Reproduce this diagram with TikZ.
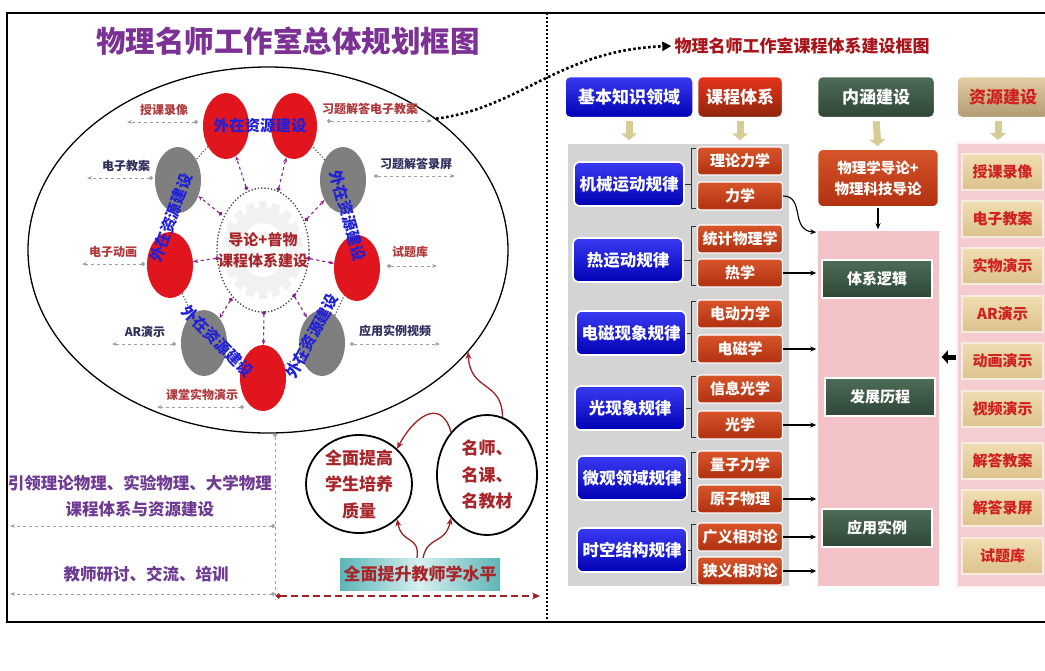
\documentclass[tikz,border=0pt]{standalone}
\usepackage{fontspec}
\setmainfont{Noto Sans CJK SC}
\usetikzlibrary{arrows.meta,shapes.geometric,calc}
\definecolor{cTitle}{HTML}{7B3294}
\definecolor{cPurT}{HTML}{6E3A92}
\definecolor{cRed}{HTML}{E0151E}
\definecolor{cGray}{HTML}{7F7F7F}
\definecolor{cBlue}{HTML}{2020D8}
\definecolor{cPur}{HTML}{8B2290}
\definecolor{cLab}{HTML}{B03A3C}
\definecolor{cNavy}{HTML}{30305E}
\definecolor{cDR}{HTML}{A8252A}
\definecolor{cCurve}{HTML}{A02025}
\definecolor{cT2}{HTML}{A8141A}
\definecolor{cKT}{HTML}{3A3AF2}
\definecolor{cKB}{HTML}{0000B4}
\definecolor{cOT}{HTML}{D8552A}
\definecolor{cOB}{HTML}{B03010}
\definecolor{cGT}{HTML}{4E6C58}
\definecolor{cGB}{HTML}{2E4636}
\definecolor{cPink}{HTML}{F3C3C8}
\definecolor{cTanT}{HTML}{F0DDB2}
\definecolor{cTanB}{HTML}{DCC28E}
\definecolor{cResT}{HTML}{D02020}
\definecolor{cTeal}{HTML}{5DB5B7}
\definecolor{cTealL}{HTML}{D6F0F0}
\definecolor{cDn}{HTML}{D6CC96}
\newcommand{\myfs}[2]{\fontsize{#1}{#2}\selectfont}
\begin{document}
\begin{tikzpicture}[x=1pt,y=-1pt,
  redc/.style={ellipse, fill=cRed, minimum width=46pt, minimum height=66pt, inner sep=0pt},
  grayc/.style={ellipse, fill=cGray, minimum width=46pt, minimum height=66pt, inner sep=0pt},
  ring/.style={dotted, line width=1.1pt, black!75},
  spoke/.style={dashed, line width=1.1pt, cPur, {Circle[length=4pt]}-{Stealth[length=5pt]}},
  btxt/.style={text=cBlue, font=\myfs{15.5}{16}\bfseries, inner sep=0pt},
  lbr/.style={text=cLab, font=\myfs{12}{12}\bfseries, inner sep=1pt},
  lbn/.style={text=cNavy, font=\myfs{12}{12}\bfseries, inner sep=1pt},
  garr/.style={dashed, gray!75, line width=1pt, {Circle[length=4pt]}-{Stealth[length=5pt]}},
  gline/.style={dashed, gray!75, line width=1pt, {Circle[length=4pt]}-},
  ptxt/.style={text=cPurT, font=\myfs{16.5}{26}\bfseries, inner sep=0pt},
  qcirc/.style={ellipse, draw=black, line width=1.8pt, fill=white, align=center, text=cDR, font=\myfs{17}{26.5}\bfseries, inner sep=0pt},
  rcurve/.style={cCurve, line width=1.3pt, -{Stealth[length=7pt,width=6pt]}},
  hbox/.style={rounded corners=5pt, minimum height=41pt, inner sep=0pt, draw=white, line width=1.5pt, font=\myfs{17}{18}\bfseries},
  dnarr/.style={line width=7pt, color=cDn, -{Triangle[length=7pt,width=16pt]}, shorten <=3pt, shorten >=2pt},
  kbox/.style={rounded corners=6pt, top color=cKT, bottom color=cKB, draw=white, line width=1.6pt, minimum width=110pt, minimum height=44pt, inner sep=0pt, text=white, font=\myfs{16.5}{17}\bfseries},
  cbox/.style={rounded corners=3pt, top color=cOT, bottom color=cOB, draw=white, line width=1.2pt, minimum width=85pt, minimum height=28pt, inner sep=0pt, text=white, font=\myfs{15}{16}\bfseries},
  gbox/.style={top color=cGT, bottom color=cGB, draw=white, line width=1.8pt, minimum width=110pt, minimum height=38pt, inner sep=0pt, text=white, font=\myfs{15}{16}\bfseries},
  rbox/.style={top color=cTanT, bottom color=cTanB, draw=white!70!cTanB, line width=1.5pt, minimum width=81pt, minimum height=36pt, inner sep=0pt, text=cResT, font=\myfs{15}{16}\bfseries},
  brk/.style={line width=1pt, black!80},
  barr/.style={line width=1.1pt, black, -{Stealth[length=6pt,width=5pt]}},
  bigdot/.style={line width=2.6pt, dash pattern=on 2.6pt off 2.4pt, -{Triangle[length=9pt,width=9pt]}}
]
\useasboundingbox (0,0) rectangle (1045,670);
\fill[white] (0,0) rectangle (1045,670);

% ===== LEFT PANEL =====
\node[font=\myfs{29.5}{30}\bfseries, text=cTitle, inner sep=0pt] (T1) at (288,41) {物理名师工作室总体规划框图};

\node[draw, ellipse, line width=1.3pt, minimum width=480pt, minimum height=366pt, inner sep=0pt] (E) at (268,250) {};

% gear
\begin{scope}[shift={(263,250)}, xscale=0.82]
  \foreach \a in {0,20,...,340} \fill[gray!11, rotate=\a] (-5,-49) rectangle (5,-40);
  \fill[gray!11] (0,0) circle (42pt);
  \fill[white] (0,0) circle (27pt);
  \fill[gray!7] (0,0) circle (19pt);
  \fill[white] (0,0) circle (10pt);
\end{scope}
\draw[dotted, line width=1.3pt, black!75] (263,250) ellipse [x radius=46pt, y radius=62pt];

% outer ring of circles
\node[redc]  (r1) at (226,126) {};
\node[redc]  (r2) at (294,126) {};
\node[grayc] (g1) at (178,180) {};
\node[grayc] (g2) at (343,180) {};
\node[redc]  (r3) at (170,265) {};
\node[redc]  (r4) at (357,268) {};
\node[grayc] (g3) at (204,343) {};
\node[grayc] (g4) at (322,343) {};
\node[redc]  (r5) at (263,378) {};

\draw[ring] (r1) -- (g1);
\draw[ring] (g1) -- (r3);
\draw[ring] (r3) -- (g3);
\draw[ring] (g3) -- (r5);
\draw[ring] (r5) -- (g4);
\draw[ring] (g4) -- (r4);
\draw[ring] (r4) -- (g2);
\draw[ring] (g2) -- (r2);

% spokes
\coordinate (d1) at (247,190);
\coordinate (d2) at (278,191);
\coordinate (d3) at (222,215);
\coordinate (d4) at (305,221);
\coordinate (d5) at (219,258);
\coordinate (d6) at (307,258);
\coordinate (d7) at (232,298);
\coordinate (d8) at (293,294);
\coordinate (d9) at (264,311);
\draw[spoke] (d1) -- (r1);
\draw[spoke] (d2) -- (r2);
\draw[spoke] (d3) -- (g1);
\draw[spoke] (d4) -- (g2);
\draw[spoke] (d5) -- (r3);
\draw[spoke] (d6) -- (r4);
\draw[spoke] (d7) -- (g3);
\draw[spoke] (d8) -- (g4);
\draw[spoke] (d9) -- (r5);

\node[align=center, text=cDR, font=\myfs{15}{21}\bfseries, inner sep=0pt] (C) at (263,250) {导论+普物\\课程体系建设};

% rotated blue labels
\node[btxt] (b1) at (260,126) {外在资源建设};
\node[btxt, rotate=70] (b2) at (171,218) {外在资源建设};
\node[btxt, rotate=-74] (b3) at (348,216) {外在资源建设};
\node[btxt, rotate=-45] (b4) at (218,341) {外在资源建设};
\node[btxt, rotate=62] (b5) at (312,336) {外在资源建设};

% resource labels with dashed arrows
\node[lbr] (l1) at (164,110) {授课录像};
\node[lbr] (l2) at (370,109) {习题解答电子教案};
\node[lbn] (l3) at (126,166) {电子教案};
\node[lbn] (l4) at (416,164) {习题解答录屏};
\node[lbr] (l5) at (113,252) {电子动画};
\node[lbr] (l6) at (410,252) {试题库};
\node[lbn] (l7) at (145,332) {AR演示};
\node[lbn] (l8) at (395,331) {应用实例视频};
\node[lbr] (l9) at (202,395) {课堂实物演示};
\coordinate (a1s) at (198,122); \coordinate (a1e) at (127,122);
\coordinate (a2s) at (327,121); \coordinate (a2e) at (432,121);
\coordinate (a3s) at (153,178); \coordinate (a3e) at (87,178);
\coordinate (a4s) at (374,176); \coordinate (a4e) at (455,176);
\coordinate (a5s) at (145,264); \coordinate (a5e) at (82,264);
\coordinate (a6s) at (387,266); \coordinate (a6e) at (437,266);
\coordinate (a7s) at (176,344); \coordinate (a7e) at (112,344);
\coordinate (a8s) at (350,344); \coordinate (a8e) at (440,344);
\coordinate (a9s) at (244,407); \coordinate (a9e) at (157,407);
\draw[garr] (a1s) -- (a1e);
\draw[garr] (a2s) -- (a2e);
\draw[garr] (a3s) -- (a3e);
\draw[garr] (a4s) -- (a4e);
\draw[garr] (a5s) -- (a5e);
\draw[garr] (a6s) -- (a6e);
\draw[garr] (a7s) -- (a7e);
\draw[garr] (a8s) -- (a8e);
\draw[garr] (a9s) -- (a9e);

% lower left
\coordinate (v0) at (275,433);
\coordinate (v1) at (275,600);
\draw[gline] (v0) -- (v1);
\node[ptxt, align=center] (P1t) at (140,496) {引领理论物理、实验物理、大学物理\\课程体系与资源建设};
\node[ptxt] (P2t) at (146,574) {教师研讨、交流、培训};
\coordinate (h1s) at (275,526); \coordinate (h1e) at (10,526);
\coordinate (h2s) at (275,594); \coordinate (h2e) at (10,594);
\draw[garr] (h1s) -- (h1e);
\draw[garr] (h2s) -- (h2e);
\coordinate (rs) at (276,596); \coordinate (re) at (540,596);
\draw[cCurve, line width=1.8pt, dash pattern=on 7pt off 4pt, {Circle[length=5pt]}-{Stealth[length=8pt,width=7pt]}] (rs) -- (re);

\node[qcirc, minimum width=106pt, minimum height=98pt] (q1) at (359,484) {全面提高\\学生培养\\质量};
\node[qcirc, minimum width=100pt, minimum height=120pt] (q2) at (487,475) {名师、\\名课、\\名教材};
\node[shading=axis, left color=cTeal, right color=cTeal, middle color=cTealL, minimum width=160pt, minimum height=32pt, inner sep=0pt, text=cDR, font=\myfs{17}{18}\bfseries] (bx) at (420,574) {全面提升教师学水平};

\draw[rcurve] ([xshift=-3pt]bx.north) .. controls (420,535) and (402,545) .. (q1.south east);
\draw[rcurve] ([xshift=3pt]bx.north) .. controls (428,535) and (445,545) .. (q2.south west);
\draw[rcurve] (q2.north west) .. controls (440,395) and (412,420) .. (q1.north east);
\draw[rcurve] (q2.75) .. controls (502,380) and (470,392) .. (E.-27);

% ===== FRAME =====
\draw[line width=2pt] (7,13) rectangle (1052,622);
\draw[line width=2.6pt, dash pattern=on 2pt off 2pt] (547,13) -- (547,622);

% ===== RIGHT PANEL =====
\node[font=\myfs{17}{18}\bfseries, text=cT2, inner sep=0pt] (T2) at (802,46) {物理名师工作室课程体系建设框图};
\draw[bigdot] (E.38) .. controls (520,108) and (560,50) .. ([xshift=-3pt]T2.west);

\node[hbox, top color=cKT, bottom color=cKB, text=white, minimum width=128pt] (h1) at (629,97) {基本知识领域};
\node[hbox, top color=cOT!60!red, bottom color=cOB!80!black, text=white, minimum width=85pt] (h2) at (740,97) {课程体系};
\node[hbox, top color=cGT, bottom color=cGB, text=white, minimum width=117pt] (h3) at (876,97) {内涵建设};
\node[hbox, top color=cTanB!80!white, bottom color=cTanB!80!black, text=cResT, minimum width=92pt] (h4) at (1003,97) {资源建设};

% panels
\node[fill=black!17, draw=white, line width=1.5pt, minimum width=223pt, minimum height=444pt, inner sep=0pt] (PA) at (678.5,365) {};
\node[fill=cPink, draw=white, line width=1.5pt, minimum width=123pt, minimum height=357pt, inner sep=0pt] (PB) at (878.5,408.5) {};
\node[fill=cPink!85!white, draw=white!80!cPink, line width=2pt, minimum width=97pt, minimum height=444pt, inner sep=0pt] (PC) at (1005.5,365) {};

\node[rounded corners=6pt, top color=cOT, bottom color=cOB, draw=white, line width=1.6pt, minimum width=121pt, minimum height=58pt, inner sep=0pt, text=white, align=center, font=\myfs{14.5}{21}\bfseries] (n1) at (878,178) {物理学导论+\\物理科技导论};

\draw[dnarr] (h1.south) -- (h1.south |- PA.north);
\draw[dnarr] (h2.south) -- (h2.south |- PA.north);
\draw[dnarr] (h3.south) -- (n1.north);
\draw[dnarr] ([xshift=-5pt]h4.south) -- ([xshift=-5pt]h4.south |- PC.north);

% knowledge boxes
\node[kbox] (k1) at (629,184) {机械运动规律};
\node[kbox] (k2) at (628,260) {热运动规律};
\node[kbox] (k3) at (631,333) {电磁现象规律};
\node[kbox] (k4) at (630,408) {光现象规律};
\node[kbox] (k5) at (632,478) {微观领域规律};
\node[kbox] (k6) at (632,550) {时空结构规律};

% course boxes
\node[cbox] (c1) at (740,161) {理论力学};
\node[cbox] (c2) at (740,196) {力学};
\node[cbox] (c3) at (740,239) {统计物理学};
\node[cbox] (c4) at (740,273) {热学};
\node[cbox] (c5) at (740,314) {电动力学};
\node[cbox] (c6) at (740,349) {电磁学};
\node[cbox] (c7) at (740,389) {信息光学};
\node[cbox] (c8) at (740,425) {光学};
\node[cbox] (c9) at (740,465) {量子力学};
\node[cbox] (c10) at (740,499) {原子物理};
\node[cbox] (c11) at (740,537) {广义相对论};
\node[cbox] (c12) at (740,571) {狭义相对论};

% brackets
\foreach \k/\a/\b in {k1/c1/c2, k2/c3/c4, k3/c5/c6, k4/c7/c8, k5/c9/c10, k6/c11/c12} {
  \draw[brk] ([xshift=-1pt,yshift=-2pt]\a.north west) -- ++(-4,0) |- ([xshift=-1pt,yshift=2pt]\b.south west);
  \draw[brk] (\k.east) -- ([xshift=-5pt]\k.east -| \a.west);
}

% green boxes
\node[gbox] (gb1) at (877,279) {体系逻辑};
\node[gbox] (gb2) at (880,397) {发展历程};
\node[gbox] (gb3) at (877,528) {应用实例};

% arrows into pink panel
\draw[barr] (c2.east) .. controls (805,196) and (790,230) .. ([yshift=-3pt]PB.north west);
\draw[barr] (c4.east) -- (c4.east -| PB.west);
\draw[barr] (c6.east) -- (c6.east -| PB.west);
\draw[barr] (c8.east) -- (c8.east -| PB.west);
\draw[barr] (c10.east) -- (c10.east -| PB.west);
\draw[barr] (c11.east) -- (c11.east -| PB.west);
\draw[barr] (c12.east) -- (c12.east -| PB.west);
\draw[barr] (n1.south) -- (n1.south |- PB.north);
\coordinate (bk) at (948,357);
\draw[line width=5pt, -{Triangle[length=6pt,width=13pt]}, shorten >=1pt] (PC.west |- bk) -- (PB.east |- bk);

% resource boxes
\node[rbox] (s1) at (1002.5,172) {授课录像};
\node[rbox] (s2) at (1002.5,219) {电子教案};
\node[rbox] (s3) at (1002.5,266) {实物演示};
\node[rbox] (s4) at (1002.5,314) {AR演示};
\node[rbox] (s5) at (1002.5,361) {动画演示};
\node[rbox] (s6) at (1002.5,409) {视频演示};
\node[rbox] (s7) at (1002.5,461) {解答教案};
\node[rbox] (s8) at (1002.5,508) {解答录屏};
\node[rbox] (s9) at (1002.5,556) {试题库};
\end{tikzpicture}
\end{document}
